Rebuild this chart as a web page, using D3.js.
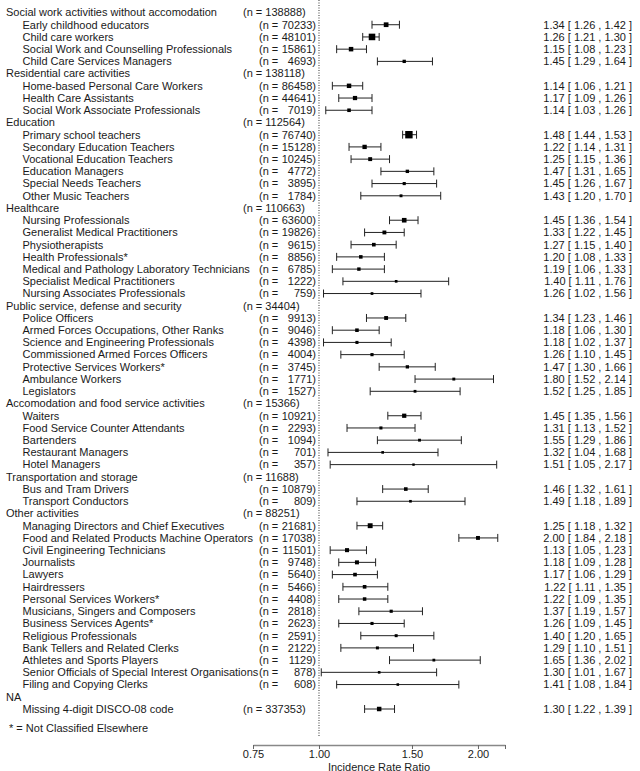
<!DOCTYPE html>
<html>
<head>
<meta charset="utf-8">
<script src="https://cdn.jsdelivr.net/npm/d3@7"></script>
<style>
  body { margin: 0; background: #fff; }
  text { font-family: "Liberation Sans", Arial, sans-serif; font-size: 11px; fill: #1a1a1a; }
</style>
</head>
<body>
<div id="root"></div>
<script>
// sector headers and their case counts (NA has none)
const groups = [
  "Social work activities without accomodation",
  "Residential care activities",
  "Education",
  "Healthcare",
  "Public service, defense and security",
  "Accomodation and food service activities",
  "Transportation and storage",
  "Other activities",
  "NA"
];
const groupN = [138888, 138118, 112564, 110663, 34404, 15366, 11688, 88251, null];

// occupations, the sector each belongs to, counts and IRR with 95% CI
const occupations = [
  "Early childhood educators", "Child care workers", "Social Work and Counselling Professionals", "Child Care Services Managers",
  "Home-based Personal Care Workers", "Health Care Assistants", "Social Work Associate Professionals",
  "Primary school teachers", "Secondary Education Teachers", "Vocational Education Teachers", "Education Managers", "Special Needs Teachers", "Other Music Teachers",
  "Nursing Professionals", "Generalist Medical Practitioners", "Physiotherapists", "Health Professionals*", "Medical and Pathology Laboratory Technicians", "Specialist Medical Practitioners", "Nursing Associates Professionals",
  "Police Officers", "Armed Forces Occupations, Other Ranks", "Science and Engineering Professionals", "Commissioned Armed Forces Officers", "Protective Services Workers*", "Ambulance Workers", "Legislators",
  "Waiters", "Food Service Counter Attendants", "Bartenders", "Restaurant Managers", "Hotel Managers",
  "Bus and Tram Drivers", "Transport Conductors",
  "Managing Directors and Chief Executives", "Food and Related Products Machine Operators", "Civil Engineering Technicians", "Journalists", "Lawyers", "Hairdressers", "Personal Services Workers*", "Musicians, Singers and Composers", "Business Services Agents*", "Religious Professionals", "Bank Tellers and Related Clerks", "Athletes and Sports Players", "Senior Officials of Special Interest Organisations", "Filing and Copying Clerks",
  "Missing 4-digit DISCO-08 code"
];
const occGroup = [0,0,0,0, 1,1,1, 2,2,2,2,2,2, 3,3,3,3,3,3,3, 4,4,4,4,4,4,4, 5,5,5,5,5, 6,6, 7,7,7,7,7,7,7,7,7,7,7,7,7,7, 8];
const occN = [70233, 48101, 15861, 4693,
  86458, 44641, 7019,
  76740, 15128, 10245, 4772, 3895, 1784,
  63600, 19826, 9615, 8856, 6785, 1222, 759,
  9913, 9046, 4398, 4004, 3745, 1771, 1527,
  10921, 2293, 1094, 701, 357,
  10879, 809,
  21681, 17038, 11501, 9748, 5640, 5466, 4408, 2818, 2623, 2591, 2122, 1129, 878, 608,
  337353];
const irr = [1.34, 1.26, 1.15, 1.45,
  1.14, 1.17, 1.14,
  1.48, 1.22, 1.25, 1.47, 1.45, 1.43,
  1.45, 1.33, 1.27, 1.20, 1.19, 1.40, 1.26,
  1.34, 1.18, 1.18, 1.26, 1.47, 1.80, 1.52,
  1.45, 1.31, 1.55, 1.32, 1.51,
  1.46, 1.49,
  1.25, 2.00, 1.13, 1.18, 1.17, 1.22, 1.22, 1.37, 1.26, 1.40, 1.29, 1.65, 1.30, 1.41,
  1.30];
const lower = [1.26, 1.21, 1.08, 1.29,
  1.06, 1.09, 1.03,
  1.44, 1.14, 1.15, 1.31, 1.26, 1.20,
  1.36, 1.22, 1.15, 1.08, 1.06, 1.11, 1.02,
  1.23, 1.06, 1.02, 1.10, 1.30, 1.52, 1.25,
  1.35, 1.13, 1.29, 1.04, 1.05,
  1.32, 1.18,
  1.18, 1.84, 1.05, 1.09, 1.06, 1.11, 1.09, 1.19, 1.09, 1.20, 1.10, 1.36, 1.01, 1.08,
  1.22];
const upper = [1.42, 1.30, 1.23, 1.64,
  1.21, 1.26, 1.26,
  1.53, 1.31, 1.36, 1.65, 1.67, 1.70,
  1.54, 1.45, 1.40, 1.33, 1.33, 1.76, 1.56,
  1.46, 1.30, 1.37, 1.45, 1.66, 2.14, 1.85,
  1.56, 1.52, 1.86, 1.68, 2.17,
  1.61, 1.89,
  1.32, 2.18, 1.23, 1.28, 1.29, 1.35, 1.35, 1.57, 1.45, 1.65, 1.51, 2.02, 1.67, 1.84,
  1.39];

const axisTicks = [0.75, 1, 1.5, 2, 2.25];
const tickLabels = ["0.75", "1.00", "1.50", "2.00", ""];
const footnote = "* = Not Classified Elsewhere";
const xTitle = "Incidence Rate Ratio";

// flatten into display rows: header, then its occupations
const rows = [];
groups.forEach((g, gi) => {
  rows.push({ kind: "group", label: g, n: groupN[gi] });
  occupations.forEach((o, i) => {
    if (occGroup[i] === gi)
      rows.push({ kind: "item", label: o, n: occN[i], est: irr[i], lo: lower[i], hi: upper[i] });
  });
});

const W = 640, H = 771;
const svg = d3.select("#root").append("svg").attr("width", W).attr("height", H);

const y = d3.scaleLinear().domain([0, rows.length - 1]).range([12.5, 709]);
const x = d3.scaleLog().domain([0.75, 2.25]).range([253, 505]);

// square size follows precision (1/se) like metafor
const items = rows.filter(r => r.kind === "item");
items.forEach(r => { r.w = 3.92 / (Math.log(r.hi) - Math.log(r.lo)); });
const size = d3.scaleLinear().domain(d3.extent(items, r => r.w)).range([2.4, 7.4]);

// reference line at 1
svg.append("line")
  .attr("x1", x(1)).attr("x2", x(1))
  .attr("y1", 0).attr("y2", 737)
  .attr("stroke", "#333").attr("stroke-dasharray", "1,1.5");

const row = svg.selectAll("g.row").data(rows).join("g")
  .attr("class", "row")
  .attr("transform", (d, i) => `translate(0,${y(i)})`);

row.append("text")
  .attr("x", d => d.kind === "group" ? 6 : 22.5)
  .attr("dy", "0.35em")
  .text(d => d.label);

// n column
row.filter(d => d.n != null && (d.kind === "group" || d.n >= 100000))
  .append("text").attr("x", 243).attr("dy", "0.35em")
  .text(d => `(n = ${d.n})`);
const small = row.filter(d => d.kind === "item" && d.n < 100000);
small.append("text").attr("x", 259).attr("dy", "0.35em").text("(n =");
small.append("text").attr("x", 316).attr("dy", "0.35em").attr("text-anchor", "end").text(d => `${d.n})`);

// CI whiskers + squares
const ci = row.filter(d => d.kind === "item");
ci.append("line")
  .attr("x1", d => x(d.lo)).attr("x2", d => x(d.hi))
  .attr("stroke", "#222");
ci.selectAll("line.cap").data(d => [d.lo, d.hi]).join("line")
  .attr("class", "cap")
  .attr("x1", v => x(v)).attr("x2", v => x(v))
  .attr("y1", -4).attr("y2", 4)
  .attr("stroke", "#222");
ci.append("rect")
  .attr("x", d => x(d.est) - size(d.w) / 2)
  .attr("y", d => -size(d.w) / 2)
  .attr("width", d => size(d.w)).attr("height", d => size(d.w))
  .attr("fill", "#000");

const fmt = d3.format(".2f");
ci.append("text")
  .attr("x", 632).attr("dy", "0.35em").attr("text-anchor", "end")
  .text(d => `${fmt(d.est)} [ ${fmt(d.lo)} , ${fmt(d.hi)} ]`);

svg.append("text").attr("x", 9).attr("y", 731.5).text(footnote);

// x axis
const ax = svg.append("g")
  .attr("transform", "translate(0,745)")
  .call(d3.axisBottom(x).tickValues(axisTicks).tickFormat((d, i) => tickLabels[i])
    .tickSize(4).tickSizeOuter(0).tickPadding(1));
ax.select(".domain").attr("stroke", "#888").attr("stroke-width", 1.5);
ax.selectAll(".tick line").attr("stroke", "#666");
ax.selectAll(".tick text").style("font-family", "'Liberation Sans', Arial, sans-serif").style("font-size", "11px").attr("fill", "#1a1a1a");

svg.append("text")
  .attr("x", (x.range()[0] + x.range()[1]) / 2).attr("y", 770.5)
  .attr("text-anchor", "middle")
  .text(xTitle);
</script>
</body>
</html>
